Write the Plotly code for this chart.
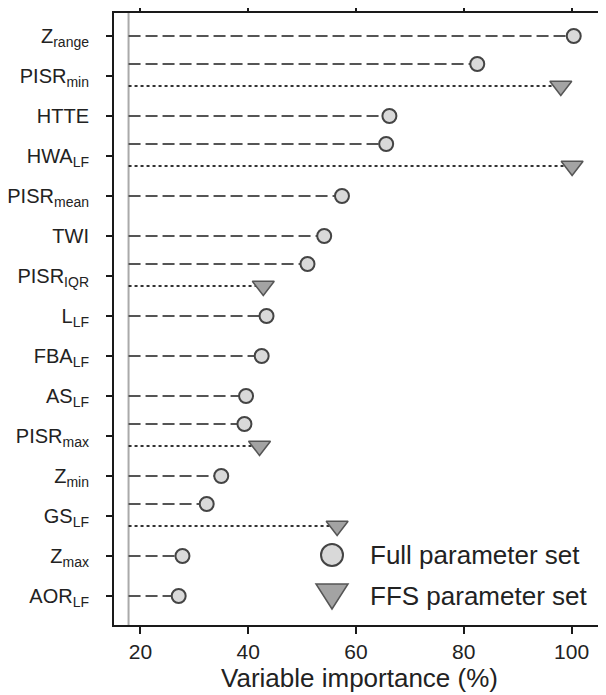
import plotly.graph_objects as go

# ---- data ----
categories = ["Z<sub>range</sub>", "PISR<sub>min</sub>", "HTTE", "HWA<sub>LF</sub>",
              "PISR<sub>mean</sub>", "TWI", "PISR<sub>IQR</sub>", "L<sub>LF</sub>",
              "FBA<sub>LF</sub>", "AS<sub>LF</sub>", "PISR<sub>max</sub>", "Z<sub>min</sub>",
              "GS<sub>LF</sub>", "Z<sub>max</sub>", "AOR<sub>LF</sub>"]
full_values = [100.4, 82.5, 66.2, 65.6, 57.4, 54.1, 51.0, 43.4, 42.5, 39.6, 39.3, 35.0, 32.3, 27.8, 27.1]

ffs_categories = ["PISR<sub>min</sub>", "HWA<sub>LF</sub>", "PISR<sub>IQR</sub>",
                  "PISR<sub>max</sub>", "GS<sub>LF</sub>"]
ffs_values = [98.0, 100.1, 42.8, 42.1, 56.5]

x_ticks = [20, 40, 60, 80, 100]
baseline = 17.8   # grey reference line
series_names = ["Full parameter set", "FFS parameter set"]

# ---- positions ----
FULL_OFF = -0.3
FFS_OFF = 0.25
pos = {c: i for i, c in enumerate(categories)}
full_y = [pos[c] + (FULL_OFF if c in ffs_categories else 0) for c in categories]
ffs_y = [pos[c] + FFS_OFF for c in ffs_categories]

def seg(xs, ys):
    X, Y = [], []
    for x, y in zip(xs, ys):
        X += [baseline, x, None]
        Y += [y, y, None]
    return X, Y

fx, fy = seg(full_values, full_y)
tx, ty = seg(ffs_values, ffs_y)

FONT = "Liberation Sans, Arial, sans-serif"

fig = go.Figure()
fig.add_trace(go.Scatter(x=fx, y=fy, mode="lines", showlegend=False, hoverinfo="skip",
                         line=dict(color="#555555", width=2, dash="12px,5px")))
fig.add_trace(go.Scatter(x=tx, y=ty, mode="lines", showlegend=False, hoverinfo="skip",
                         line=dict(color="#333333", width=2, dash="3px,3px")))
fig.add_trace(go.Scatter(x=full_values, y=full_y, mode="markers", name=series_names[0],
                         showlegend=False,
                         marker=dict(symbol="circle", size=14, color="#d9d9d9",
                                     line=dict(color="#444444", width=2))))
fig.add_trace(go.Scatter(x=ffs_values, y=ffs_y, mode="markers", name=series_names[1],
                         showlegend=False,
                         marker=dict(symbol="triangle-down", size=19, color="#a3a3a3",
                                     line=dict(color="#555555", width=1.5))))

# grey vertical reference line
fig.add_shape(type="line", xref="x", yref="paper", x0=baseline, x1=baseline, y0=0, y1=1,
              line=dict(color="#aaaaaa", width=2), layer="below")

# manual legend (large symbols)
LEG_X = 0.444
LEG_Y = [0.1144, 0.0474]
fig.add_shape(type="circle", xref="paper", yref="paper", xsizemode="pixel", ysizemode="pixel",
              xanchor=LEG_X, yanchor=LEG_Y[0], x0=-11, x1=11, y0=-11, y1=11,
              fillcolor="#d9d9d9", line=dict(color="#444444", width=2))
fig.add_shape(type="path", xref="paper", yref="paper", xsizemode="pixel", ysizemode="pixel",
              xanchor=LEG_X, yanchor=LEG_Y[1], path="M -16,12 L 16,12 L 0,-13 Z",
              fillcolor="#a3a3a3", line=dict(color="#555555", width=1.5))
for name, yy in zip(series_names, LEG_Y):
    fig.add_annotation(text=name, xref="paper", yref="paper", x=0.5173, y=yy,
                       xanchor="left", yanchor="middle", showarrow=False,
                       font=dict(family=FONT, size=26, color="#222222"))

# page has an 8px body margin -> shrink the figure by 8px to fit the 606x695 window
fig.update_layout(
    width=598, height=687,
    margin=dict(l=106, r=1, t=5, b=70, autoexpand=False),
    paper_bgcolor="white", plot_bgcolor="white",
    font=dict(family=FONT, size=21, color="#222222"),
    showlegend=False,
)
fig.update_xaxes(range=[15.1, 106.2], tickvals=x_ticks, ticks="outside", ticklen=7,
                 tickwidth=2, tickcolor="#1a1a1a", showline=True, linewidth=2,
                 linecolor="#1a1a1a", mirror="ticks", showgrid=False, zeroline=False,
                 title=dict(text="Variable importance (%)", font=dict(size=26), standoff=4),
                 tickfont=dict(size=21), automargin=False)
fig.update_yaxes(range=[14.725, -0.575], tickvals=list(range(len(categories))),
                 ticktext=categories, ticks="outside", ticklen=6, tickwidth=2,
                 tickcolor="#1a1a1a", showline=True, linewidth=2, linecolor="#1a1a1a",
                 mirror=True, showgrid=False, zeroline=False, tickfont=dict(size=20),
                 ticklabelstandoff=13, automargin=False)

fig.write_html("out.html")
